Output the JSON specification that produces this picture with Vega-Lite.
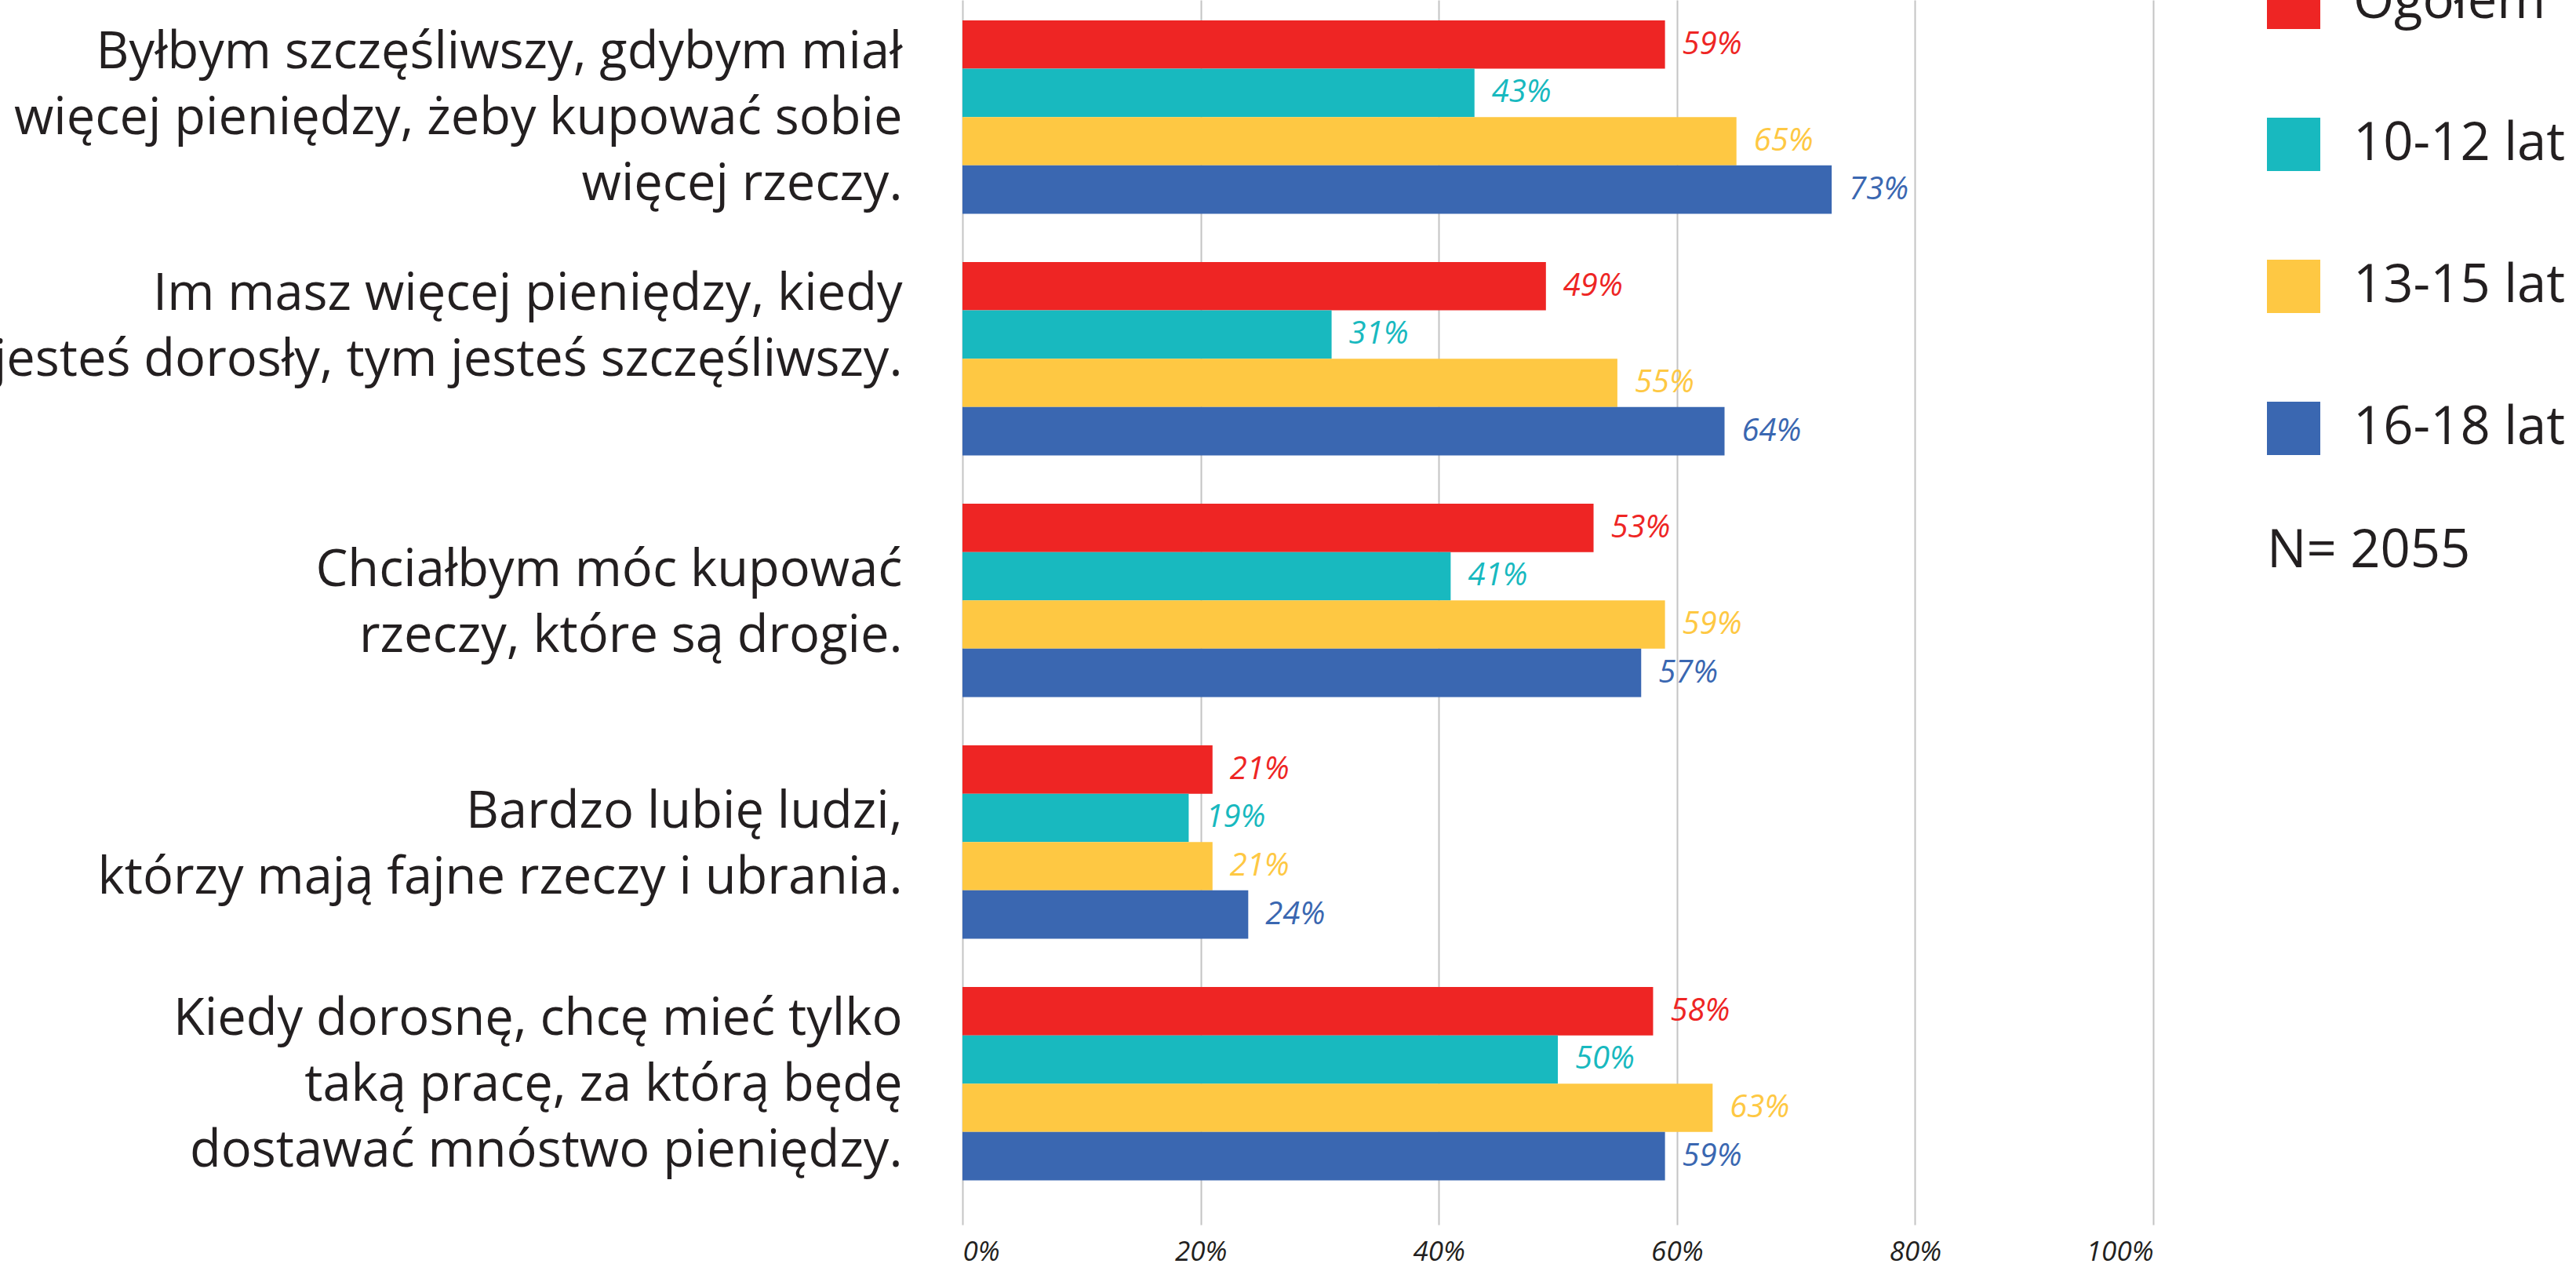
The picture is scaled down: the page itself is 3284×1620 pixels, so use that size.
{
  "$schema": "https://vega.github.io/schema/vega-lite/v6.json",
  "autosize": "none",
  "width": 1518,
  "height": 1561,
  "padding": {"left": 1227, "top": 0, "right": 539, "bottom": 59},
  "background": "white",
  "config": {"view": {"stroke": null}},
  "data": {
    "values": [
      {"q": "Byłbym szczęśliwszy, gdybym miał|więcej pieniędzy, żeby kupować sobie|więcej rzeczy.", "grupa": "Ogółem", "v": 0.59},
      {"q": "Byłbym szczęśliwszy, gdybym miał|więcej pieniędzy, żeby kupować sobie|więcej rzeczy.", "grupa": "10-12 lat", "v": 0.43},
      {"q": "Byłbym szczęśliwszy, gdybym miał|więcej pieniędzy, żeby kupować sobie|więcej rzeczy.", "grupa": "13-15 lat", "v": 0.65},
      {"q": "Byłbym szczęśliwszy, gdybym miał|więcej pieniędzy, żeby kupować sobie|więcej rzeczy.", "grupa": "16-18 lat", "v": 0.73},
      {"q": "Im masz więcej pieniędzy, kiedy|jesteś dorosły, tym jesteś szczęśliwszy.|", "grupa": "Ogółem", "v": 0.49},
      {"q": "Im masz więcej pieniędzy, kiedy|jesteś dorosły, tym jesteś szczęśliwszy.|", "grupa": "10-12 lat", "v": 0.31},
      {"q": "Im masz więcej pieniędzy, kiedy|jesteś dorosły, tym jesteś szczęśliwszy.|", "grupa": "13-15 lat", "v": 0.55},
      {"q": "Im masz więcej pieniędzy, kiedy|jesteś dorosły, tym jesteś szczęśliwszy.|", "grupa": "16-18 lat", "v": 0.64},
      {"q": "Chciałbym móc kupować|rzeczy, które są drogie.", "grupa": "Ogółem", "v": 0.53},
      {"q": "Chciałbym móc kupować|rzeczy, które są drogie.", "grupa": "10-12 lat", "v": 0.41},
      {"q": "Chciałbym móc kupować|rzeczy, które są drogie.", "grupa": "13-15 lat", "v": 0.59},
      {"q": "Chciałbym móc kupować|rzeczy, które są drogie.", "grupa": "16-18 lat", "v": 0.57},
      {"q": "Bardzo lubię ludzi,|którzy mają fajne rzeczy i ubrania.", "grupa": "Ogółem", "v": 0.21},
      {"q": "Bardzo lubię ludzi,|którzy mają fajne rzeczy i ubrania.", "grupa": "10-12 lat", "v": 0.19},
      {"q": "Bardzo lubię ludzi,|którzy mają fajne rzeczy i ubrania.", "grupa": "13-15 lat", "v": 0.21},
      {"q": "Bardzo lubię ludzi,|którzy mają fajne rzeczy i ubrania.", "grupa": "16-18 lat", "v": 0.24},
      {"q": "Kiedy dorosnę, chcę mieć tylko|taką pracę, za którą będę|dostawać mnóstwo pieniędzy.", "grupa": "Ogółem", "v": 0.58},
      {"q": "Kiedy dorosnę, chcę mieć tylko|taką pracę, za którą będę|dostawać mnóstwo pieniędzy.", "grupa": "10-12 lat", "v": 0.50},
      {"q": "Kiedy dorosnę, chcę mieć tylko|taką pracę, za którą będę|dostawać mnóstwo pieniędzy.", "grupa": "13-15 lat", "v": 0.63},
      {"q": "Kiedy dorosnę, chcę mieć tylko|taką pracę, za którą będę|dostawać mnóstwo pieniędzy.", "grupa": "16-18 lat", "v": 0.59}
    ]
  },
  "encoding": {
    "y": {
      "field": "q",
      "type": "nominal",
      "sort": null,
      "title": null,
      "scale": {"paddingInner": 0.2, "paddingOuter": 0.134, "align": 0.315},
      "axis": {
        "domain": false,
        "ticks": false,
        "labelExpr": "split(datum.value, '|')",
        "labelFont": "Open Sans",
        "labelFontSize": 65,
        "labelColor": "#231F20",
        "labelLineHeight": 84,
        "labelLimit": 1400,
        "labelPadding": 77,
        "labelAlign": "right",
        "labelBaseline": "middle",
        "labelOffset": {"condition": {"test": "length(split(datum.value, '|')) == 3", "value": -82}, "value": -38}
      }
    },
    "yOffset": {
      "field": "grupa",
      "type": "nominal",
      "sort": ["Ogółem", "10-12 lat", "13-15 lat", "16-18 lat"],
      "scale": {"paddingInner": 0, "paddingOuter": 0}
    },
    "x": {
      "field": "v",
      "type": "quantitative",
      "title": null,
      "scale": {"domain": [0, 1], "nice": false},
      "axis": {
        "values": [0, 0.2, 0.4, 0.6, 0.8, 1],
        "format": ".0%",
        "domain": false,
        "ticks": false,
        "grid": true,
        "gridColor": "#c4c4c4",
        "gridWidth": 2,
        "labelFont": "Open Sans",
        "labelFontStyle": "italic",
        "labelFontSize": 35,
        "labelColor": "#231F20",
        "labelPadding": 17
      }
    },
    "color": {
      "field": "grupa",
      "type": "nominal",
      "scale": {
        "domain": ["Ogółem", "10-12 lat", "13-15 lat", "16-18 lat"],
        "range": ["#EE2524", "#18B9BF", "#FEC843", "#3A67B1"]
      },
      "legend": {
        "title": "N= 2055",
        "orient": "none",
        "legendX": 1663,
        "legendY": -31,
        "symbolType": "square",
        "symbolSize": 4624,
        "symbolStrokeWidth": 0,
        "symbolOpacity": 1,
        "labelFont": "Open Sans",
        "labelFontSize": 67,
        "labelColor": "#231F20",
        "labelOffset": 42,
        "labelLimit": 600,
        "rowPadding": 113,
        "titleOrient": "bottom",
        "titleAnchor": "start",
        "titleAlign": "left",
        "titleFont": "Open Sans",
        "titleFontSize": 67,
        "titleFontWeight": "normal",
        "titleColor": "#231F20",
        "titlePadding": 90,
        "titleLimit": 600
      }
    }
  },
  "layer": [
    {"mark": {"type": "bar", "cornerRadius": 0}},
    {
      "mark": {"type": "text", "align": "left", "baseline": "middle", "dx": 22, "font": "Open Sans", "fontStyle": "italic", "fontSize": 40},
      "encoding": {
        "text": {"field": "v", "type": "quantitative", "format": ".0%"}
      }
    }
  ]
}
